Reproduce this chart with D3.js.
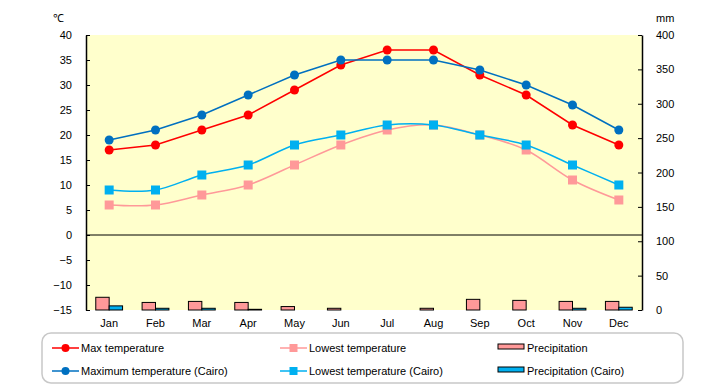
<!DOCTYPE html>
<html>
<head>
<meta charset="utf-8">
<script src="https://cdn.jsdelivr.net/npm/d3@7"></script>
<style>
  body { margin: 0; background: #fff; }
  svg { font-family: "Liberation Sans", Arial, sans-serif; font-size: 11px; }
</style>
</head>
<body>
<svg id="chart" width="720" height="385"></svg>
<script>
// monthly values
const months = ["Jan", "Feb", "Mar", "Apr", "May", "Jun", "Jul", "Aug", "Sep", "Oct", "Nov", "Dec"]
const maxTemp = [17, 18, 21, 24, 29, 34, 37, 37, 32, 28, 22, 18]
const lowTemp = [6, 6, 8, 10, 14, 18, 21, 22, 20, 17, 11, 7]
const maxTempCairo = [19, 21, 24, 28, 32, 35, 35, 35, 33, 30, 26, 21]
const lowTempCairo = [9, 9, 12, 14, 18, 20, 22, 22, 20, 18, 14, 10]
const precip = [18.5, 11, 12.5, 11, 5, 2.5, 0, 2.5, 15.5, 14, 12.5, 12.5]
const precipCairo = [6, 2.5, 2.5, 1, 0, 0, 0, 0, 0, 0, 2.5, 4]
const tempTicks = [40, 35, 30, 25, 20, 15, 10, 5, 0, -5, -10, -15]
const precipTicks = [400, 350, 300, 250, 200, 150, 100, 50, 0]

const svg = d3.select("#chart")
const plotL = 86, plotR = 642, plotT = 35, plotB = 310

const x = d3.scaleBand().domain(months).range([plotL, plotR])
const yT = d3.scaleLinear().domain([-15, 40]).range([plotB, plotT])
const yP = d3.scaleLinear().domain([0, 400]).range([plotB, plotT])

// plot background
svg.append("rect")
  .attr("x", plotL).attr("y", plotT)
  .attr("width", plotR - plotL).attr("height", plotB - plotT)
  .attr("fill", "#ffffcc")

// bars (precipitation)
const bw = 13.4
const barG = svg.append("g")
barG.selectAll("rect.p").data(precip).enter().append("rect")
  .attr("x", (d, i) => x(months[i]) + x.bandwidth() / 2 - bw)
  .attr("y", d => yP(d))
  .attr("width", bw)
  .attr("height", d => yP(0) - yP(d))
  .attr("fill", "#ff9999").attr("stroke", "#000").attr("stroke-width", 1)
  .style("display", d => d > 0 ? null : "none")
barG.selectAll("rect.c").data(precipCairo).enter().append("rect")
  .attr("x", (d, i) => x(months[i]) + x.bandwidth() / 2)
  .attr("y", d => yP(d))
  .attr("width", bw)
  .attr("height", d => yP(0) - yP(d))
  .attr("fill", "#00b0f0").attr("stroke", "#000").attr("stroke-width", 1)
  .style("display", d => d > 0 ? null : "none")

// zero line
svg.append("line")
  .attr("x1", plotL).attr("x2", plotR)
  .attr("y1", yT(0)).attr("y2", yT(0))
  .attr("stroke", "#000").attr("stroke-width", 1)

// axes
const leftAxis = svg.append("g").attr("transform", `translate(${plotL},0)`)
  .call(d3.axisLeft(yT).tickValues(tempTicks).tickSizeInner(-4).tickSizeOuter(0).tickPadding(14).tickFormat(d => d < 0 ? "\u2212" + Math.abs(d) : d))
const rightAxis = svg.append("g").attr("transform", `translate(${plotR},0)`)
  .call(d3.axisRight(yP).tickValues(precipTicks).tickSizeInner(-4).tickSizeOuter(0).tickPadding(14))
;[leftAxis, rightAxis].forEach(a => {
  a.select(".domain").attr("stroke", "#000").attr("stroke-width", 1.5)
  a.selectAll("line").attr("stroke", "#000")
  a.selectAll("text").attr("fill", "#000").style("font-size", "11px")
})

// month labels
svg.append("g").selectAll("text").data(months).enter().append("text")
  .attr("x", d => x(d) + x.bandwidth() / 2)
  .attr("y", 327)
  .attr("text-anchor", "middle")
  .text(d => d)

// unit labels
svg.append("text").attr("x", 53).attr("y", 22).text("\u2103")
svg.append("text").attr("x", 656).attr("y", 22).text("mm")

// lines
const cx = i => x(months[i]) + x.bandwidth() / 2
const straight = d3.line().x((d, i) => cx(i)).y(d => yT(d))
const smooth = d3.line().x((d, i) => cx(i)).y(d => yT(d)).curve(d3.curveCardinal.tension(0))

const series = [
  { data: lowTemp, color: "#ff9999", shape: "square", line: smooth },
  { data: lowTempCairo, color: "#00b0f0", shape: "square", line: smooth },
  { data: maxTemp, color: "#ff0000", shape: "circle", line: straight },
  { data: maxTempCairo, color: "#0070c0", shape: "circle", line: straight }
]

series.forEach(s => {
  svg.append("path").datum(s.data)
    .attr("d", s.line)
    .attr("fill", "none")
    .attr("stroke", s.color)
    .attr("stroke-width", 1.5)
  const g = svg.append("g")
  if (s.shape === "circle") {
    g.selectAll("circle").data(s.data).enter().append("circle")
      .attr("cx", (d, i) => cx(i)).attr("cy", d => yT(d)).attr("r", 4.5)
      .attr("fill", s.color)
  } else {
    g.selectAll("rect").data(s.data).enter().append("rect")
      .attr("x", (d, i) => cx(i) - 4.5).attr("y", d => yT(d) - 4.5)
      .attr("width", 9).attr("height", 9)
      .attr("fill", s.color)
  }
})

// legend
const legend = svg.append("g")
legend.append("rect")
  .attr("x", 42).attr("y", 333).attr("width", 641).attr("height", 50)
  .attr("rx", 9).attr("fill", "#fff").attr("stroke", "#c8c8c8").attr("stroke-width", 1.5)

const legendItems = [
  { label: "Max temperature", color: "#ff0000", shape: "circle", lx: 52, ly: 348 },
  { label: "Maximum temperature (Cairo)", color: "#0070c0", shape: "circle", lx: 52, ly: 371 },
  { label: "Lowest temperature", color: "#ff9999", shape: "square", lx: 280, ly: 348 },
  { label: "Lowest temperature (Cairo)", color: "#00b0f0", shape: "square", lx: 280, ly: 371 },
  { label: "Precipitation", color: "#ff9999", shape: "bar", lx: 498, ly: 348 },
  { label: "Precipitation (Cairo)", color: "#00b0f0", shape: "bar", lx: 498, ly: 371 }
]

legendItems.forEach(it => {
  const g = legend.append("g")
  if (it.shape === "bar") {
    g.append("rect").attr("x", it.lx).attr("y", it.ly - 4).attr("width", 26).attr("height", 5)
      .attr("fill", it.color).attr("stroke", "#000").attr("stroke-width", 1)
  } else {
    g.append("line").attr("x1", it.lx).attr("x2", it.lx + 27)
      .attr("y1", it.ly).attr("y2", it.ly)
      .attr("stroke", it.color).attr("stroke-width", 1.5)
    if (it.shape === "circle") {
      g.append("circle").attr("cx", it.lx + 13.5).attr("cy", it.ly).attr("r", 4).attr("fill", it.color)
    } else {
      g.append("rect").attr("x", it.lx + 9.5).attr("y", it.ly - 4).attr("width", 8).attr("height", 8).attr("fill", it.color)
    }
  }
  g.append("text").attr("x", it.lx + 29).attr("y", it.ly + 4).text(it.label)
})
</script>
</body>
</html>
